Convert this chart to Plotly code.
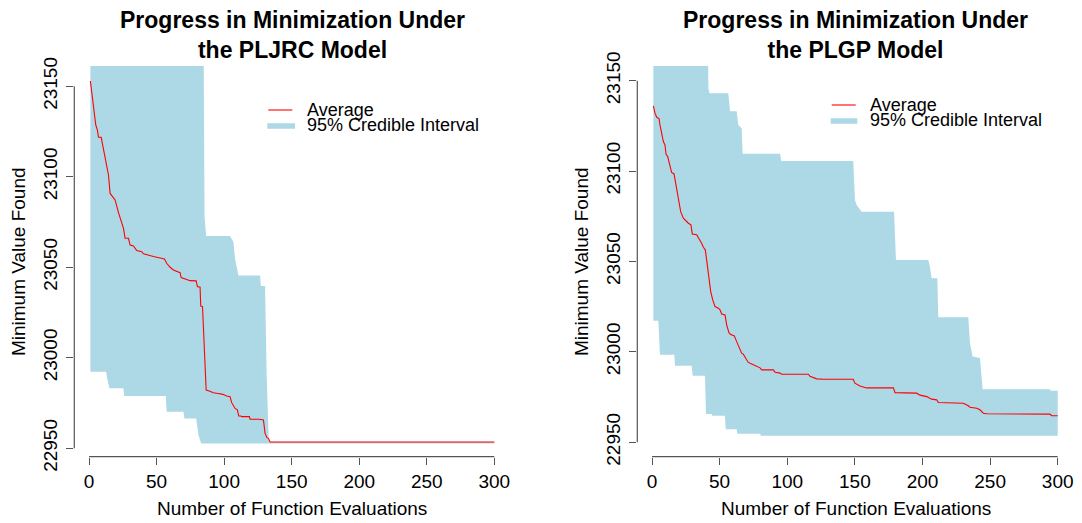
import plotly.graph_objects as go

W, H = 1082, 523

# ---------------- data: PLJRC model (left) ----------------
pljrc_mean_x = [1, 2.0, 3.3, 5.0, 6.2, 7.0, 9.0, 10.7, 12.7, 14.4, 15.6, 16.3, 19.3, 21.8, 24.2,
                25.5, 26.7, 29.2, 30.4, 32.9, 35.3, 39.0, 40.3, 42.7, 47.7, 52.6, 55.8, 57.5,
                60.0, 62.5, 64.9, 67.4, 68.2, 71.1, 74.8, 79.3, 80.2, 82.2, 82.7, 84.0, 85.2,
                86.7, 88.4, 92.1, 95.8, 99.0, 101.9, 104.4, 105.6, 108.1, 109.8, 110.8, 112.3,
                113.0, 118.7, 119.2, 126.1, 129.1, 130.3, 131.6, 132.8, 134.0, 300]
pljrc_mean_y = [23152.9, 23146.0, 23137.0, 23128.6, 23125.8, 23121.8, 23121.8, 23114.8, 23107.4,
                23101.0, 23090.8, 23090.0, 23087.2, 23080.2, 23075.2, 23071.5, 23066.0, 23066.0,
                23062.3, 23061.8, 23059.2, 23058.6, 23057.4, 23056.8, 23055.9, 23055.1, 23054.6,
                23052.2, 23050.0, 23048.5, 23047.6, 23047.0, 23044.3, 23043.4, 23042.6, 23042.5,
                23039.3, 23039.0, 23028.6, 23028.3, 23004.3, 22982.2, 22981.8, 22980.7, 22980.3,
                22979.8, 22978.9, 22978.5, 22975.2, 22972.0, 22971.2, 22967.8, 22967.8, 22967.5,
                22967.5, 22966.0, 22966.0, 22965.6, 22958.2, 22956.0, 22955.5, 22953.5, 22953.5]
pljrc_upper_x = [1, 84.7, 85.5, 86.2, 86.7, 104.4, 105.5, 106.9, 108.0, 109.5, 110.6, 126.6,
                 127.2, 130.3, 131.5, 133.0, 134.0, 300]
pljrc_upper_y = [23190, 23190, 23078, 23072, 23067.3, 23067.3, 23066, 23064, 23055, 23049.4,
                 23045.5, 23045.5, 23039.7, 23039.7, 22990, 22955, 22953.5, 22953.5]
pljrc_lower_x = [1, 12.7, 13.4, 15.1, 25.5, 26.0, 56.8, 57.5, 69.9, 70.6, 79.3, 81.0, 83.0, 300]
pljrc_lower_y = [22992.3, 22992.3, 22988.7, 22983.2, 22983.2, 22978.9, 22978.9, 22970.2,
                 22970.2, 22966.5, 22966.5, 22957.4, 22952.7, 22952.7]

# ---------------- data: PLGP model (right) ----------------
plgp_mean_x = [1.0, 2.2, 3.5, 5.2, 5.9, 7.1, 8.4, 9.6, 10.4, 11.6, 12.8, 13.8, 14.5, 16.3, 17.7,
               19.5, 21.2, 23.2, 25.1, 26.9, 28.8, 29.8, 33.0, 35.0, 36.7, 38.0, 39.4, 40.4,
               41.7, 43.4, 44.9, 46.6, 49.1, 50.3, 51.5, 54.0, 55.2, 56.9, 58.2, 60.9, 62.6,
               64.3, 66.3, 67.5, 69.5, 71.2, 73.7, 77.4, 79.9, 81.1, 89.7, 91.0, 94.7, 95.9,
               115.6, 116.8, 119.3, 121.8, 126.7, 148.8, 150.0, 153.8, 158.7, 178.5, 179.7,
               195.7, 198.2, 203.1, 206.8, 210.5, 211.7, 230.2, 233.9, 235.1, 240.1, 242.5,
               245.0, 247.5, 294.3, 295.5, 300]
plgp_mean_y = [23136.0, 23132.0, 23129.7, 23129.0, 23125.5, 23121.8, 23116.3, 23114.4, 23109.3,
               23108.0, 23104.3, 23102.4, 23099.2, 23098.4, 23092.3, 23084.9, 23077.5, 23073.9,
               23072.4, 23071.1, 23070.2, 23065.2, 23064.7, 23062.3, 23060.0, 23057.8, 23056.4,
               23050.8, 23041.6, 23033.3, 23028.7, 23025.0, 23024.1, 23023.2, 23020.9, 23020.4,
               23014.9, 23010.6, 23009.5, 23008.8, 23005.6, 23002.9, 22999.2, 22998.7, 22996.4,
               22994.1, 22993.3, 22992.2, 22991.1, 22990.0, 22990.0, 22988.7, 22988.2, 22987.6,
               22987.6, 22986.5, 22985.7, 22985.0, 22984.8, 22984.8, 22982.6, 22981.1, 22980.0,
               22980.0, 22977.4, 22977.1, 22976.0, 22975.2, 22973.8, 22973.4, 22971.9, 22971.5,
               22970.1, 22969.3, 22968.8, 22967.9, 22966.0, 22965.7, 22965.5, 22964.6, 22964.6]
plgp_upper_x = [1, 41.2, 41.7, 42.5, 56.4, 57.7, 62.6, 63.8, 66.3, 67.0, 94.7, 95.5, 148.8,
                150.1, 151.3, 155.0, 179.0, 180.4, 204.3, 205.5, 206.8, 211.0, 211.7, 233.9,
                235.1, 237.1, 242.5, 244.5, 294.3, 294.8, 300]
plgp_upper_y = [23190, 23190, 23145.8, 23143, 23143, 23133, 23133, 23125.5, 23123.6, 23109.5,
                23109.5, 23105.6, 23105.6, 23084, 23081.2, 23077.5, 23077.5, 23050.8, 23050.8,
                23047, 23040.7, 23040.7, 23019.1, 23019.1, 23004.7, 22997.4, 22996.5, 22979.3,
                22979.3, 22978.4, 22978.4]
plgp_lower_x = [1, 4.7, 5.9, 16.5, 17.0, 29.3, 30.1, 39.2, 39.9, 44.1, 44.6, 54.0, 54.5, 62.6,
                63.1, 79.9, 80.6, 300]
plgp_lower_y = [23017.1, 23017.1, 22998.3, 22998.3, 22992.2, 22992.2, 22986.7, 22986.7,
                22965.5, 22965.5, 22964.6, 22964.6, 22957.2, 22957.2, 22954.6, 22954.6,
                22953.5, 22953.5]

x_ticks = [0, 50, 100, 150, 200, 250, 300]
y_ticks = [22950, 23000, 23050, 23100, 23150]
titles = ["Progress in Minimization Under<br>the PLJRC Model",
          "Progress in Minimization Under<br>the PLGP Model"]
x_title = "Number of Function Evaluations"
y_title = "Minimum Value Found"
legend_labels = ["Average", "95% Credible Interval"]

BAND = "#ADD8E6"
AXC = "#555555"
FONT = "Liberation Sans, Arial, Helvetica, sans-serif"
FS = 19

fig = go.Figure()

panels = [
    dict(mx=pljrc_mean_x, my=pljrc_mean_y, ux=pljrc_upper_x, uy=pljrc_upper_y,
         lx=pljrc_lower_x, ly=pljrc_lower_y, xa="x", ya="y",
         xdom=[74.3, 510.4], xr=[-10.9, 311.9], yr=[22945.4, 23161.2],
         leg_x=(268.3, 292.3, 267.3, 295.0, 305.0), leg_y=(110.0, 126.0)),
    dict(mx=plgp_mean_x, my=plgp_mean_y, ux=plgp_upper_x, uy=plgp_upper_y,
         lx=plgp_lower_x, ly=plgp_lower_y, xa="x2", ya="y2",
         xdom=[637.3, 1073.8], xr=[-10.87, 311.9], yr=[22942.0, 23158.1],
         leg_x=(831.7, 855.7, 830.7, 857.3, 867.7), leg_y=(105.0, 121.0)),
]

ydom = [1 - 456.6 / H, 1 - 66.0 / H]
shapes, annotations = [], []

for i, p in enumerate(panels):
    bx = list(p["ux"]) + list(p["lx"])[::-1]
    by = list(p["uy"]) + list(p["ly"])[::-1]
    fig.add_trace(go.Scatter(x=bx, y=by, fill="toself", fillcolor=BAND, mode="lines",
                             line=dict(width=0, color=BAND), hoverinfo="skip",
                             showlegend=False, xaxis=p["xa"], yaxis=p["ya"]))
    fig.add_trace(go.Scatter(x=p["mx"], y=p["my"], mode="lines",
                             line=dict(color="#FF0000", width=1.1),
                             showlegend=False, xaxis=p["xa"], yaxis=p["ya"]))
    sfx = "" if i == 0 else "2"
    axis_common = dict(showgrid=False, zeroline=False, showline=False, ticks="outside",
                       tickcolor=AXC, tickwidth=1.2, ticklen=7, automargin=False,
                       tickformat="d",
                       tickfont=dict(family=FONT, size=FS, color="black"))
    fig.layout["xaxis" + sfx] = dict(domain=[p["xdom"][0] / W, p["xdom"][1] / W],
                                     range=p["xr"], tickmode="array", tickvals=x_ticks,
                                     anchor="y" + sfx, ticklabelstandoff=1, **axis_common)
    fig.layout["yaxis" + sfx] = dict(domain=ydom, range=p["yr"], tickmode="array",
                                     tickvals=y_ticks, tickangle=-90,
                                     ticklabelstandoff=2,
                                     anchor="x" + sfx, **axis_common)
    # R-style axis lines spanning first to last tick
    shapes.append(dict(type="line", xref=p["xa"], yref=p["ya"] + " domain",
                       x0=x_ticks[0], x1=x_ticks[-1], y0=0, y1=0,
                       line=dict(color=AXC, width=1.2)))
    shapes.append(dict(type="line", xref=p["xa"] + " domain", yref=p["ya"],
                       x0=0, x1=0, y0=y_ticks[0], y1=y_ticks[-1],
                       line=dict(color=AXC, width=1.2)))
    cx = (p["xdom"][0] + p["xdom"][1]) / 2
    # title
    annotations.append(dict(text="<b>" + titles[i] + "</b>", xref="paper", yref="paper",
                            x=cx / W, y=1 - 35.0 / H, xanchor="center", yanchor="middle",
                            showarrow=False, font=dict(family=FONT, size=23, color="black")))
    # axis titles
    annotations.append(dict(text=x_title, xref="paper", yref="paper", x=cx / W,
                            y=1 - 508.5 / H, xanchor="center", yanchor="middle",
                            showarrow=False, font=dict(family=FONT, size=FS, color="black")))
    annotations.append(dict(text=y_title, xref="paper", yref="paper",
                            x=(p["xdom"][0] - 56.5) / W, y=(ydom[0] + ydom[1]) / 2,
                            xanchor="center", yanchor="middle", textangle=-90,
                            showarrow=False, font=dict(family=FONT, size=FS, color="black")))
    # legend
    r0, r1, b0, b1, tx = p["leg_x"]
    ya_, yb_ = p["leg_y"]
    shapes.append(dict(type="line", xref="paper", yref="paper", x0=r0 / W, x1=r1 / W,
                       y0=1 - ya_ / H, y1=1 - ya_ / H, line=dict(color="#FF0000", width=1.1)))
    shapes.append(dict(type="line", xref="paper", yref="paper", x0=b0 / W, x1=b1 / W,
                       y0=1 - yb_ / H, y1=1 - yb_ / H, line=dict(color=BAND, width=5.5)))
    for lab, yy in zip(legend_labels, (ya_ - 0.5, yb_ - 0.5)):
        annotations.append(dict(text=lab, xref="paper", yref="paper", x=tx / W,
                                y=1 - yy / H, xanchor="left", yanchor="middle",
                                showarrow=False,
                                font=dict(family=FONT, size=18, color="black")))

fig.update_layout(width=W, height=H, margin=dict(l=0, r=0, t=0, b=0),
                  paper_bgcolor="white", plot_bgcolor="white",
                  shapes=shapes, annotations=annotations, showlegend=False)

fig.write_html("out.html")
